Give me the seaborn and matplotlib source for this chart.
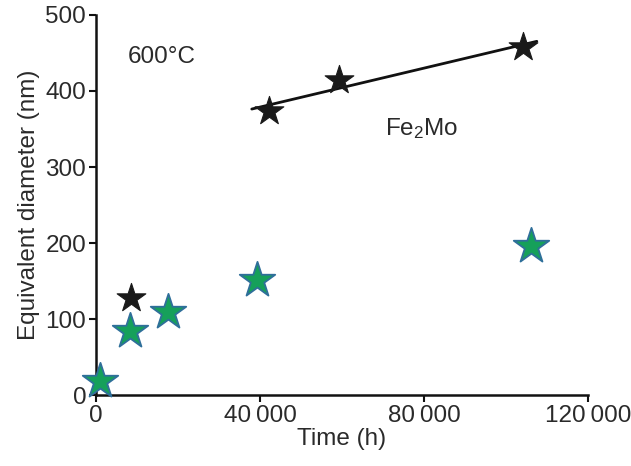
import numpy as np
import pandas as pd
import matplotlib
matplotlib.use("Agg")
import matplotlib.pyplot as plt
import seaborn as sns

# Equivalent diameter of precipitates at 600 °C vs ageing time
green_time = [1000, 8300, 17600, 39300, 106100]
green_diam = [18, 84, 110, 151, 196]

fe2mo_time = [8500, 42200, 59300, 104100]
fe2mo_diam = [128, 374, 414, 458]

x_ticks = [0, 40000, 80000, 120000]
x_ticklabels = ["0", "40\u2009000", "80\u2009000", "120\u2009000"]
y_ticks = [0, 100, 200, 300, 400, 500]

sns.set_theme(style="ticks")
plt.rcParams["font.family"] = ["Liberation Sans", "DejaVu Sans"]
plt.rcParams["mathtext.fontset"] = "custom"
plt.rcParams["mathtext.rm"] = "Liberation Sans"

FS = 17.5

fig = plt.figure(figsize=(6.31, 4.66), dpi=100)
ax = fig.add_axes([0.152, 0.152, 0.78, 0.816])

green_df = pd.DataFrame({"t": green_time, "d": green_diam})
fe2mo_df = pd.DataFrame({"t": fe2mo_time, "d": fe2mo_diam})

sns.scatterplot(data=green_df, x="t", y="d", marker="*", s=720,
                color="#16a05a", edgecolor="#2f6f9a", linewidth=1.3,
                ax=ax, clip_on=False, zorder=3)
sns.scatterplot(data=fe2mo_df, x="t", y="d", marker="*", s=470,
                color="#1a1a1a", edgecolor="#1a1a1a", linewidth=0.8,
                ax=ax, clip_on=False, zorder=3)

# Linear trend through the long-time Fe2Mo points
fit_t = np.array(fe2mo_time[1:])
fit_d = np.array(fe2mo_diam[1:])
slope, intercept = np.polyfit(fit_t, fit_d, 1)
line_t = np.array([38000, 107500])
sns.lineplot(x=line_t, y=slope * line_t + intercept, color="#111111",
             linewidth=2.0, ax=ax, zorder=2)

ax.set_xlim(0, 120000)
ax.set_ylim(0, 500)
ax.set_xticks(x_ticks)
ax.set_xticklabels(x_ticklabels)
ax.set_yticks(y_ticks)
ax.set_xlabel("Time (h)", fontsize=FS, color="#2a2a2a", labelpad=1)
ax.set_ylabel("Equivalent diameter (nm)", fontsize=FS, color="#2a2a2a", labelpad=4)
ax.tick_params(axis="both", direction="out", length=5, width=1.5,
               labelsize=FS, colors="#111111", labelcolor="#2a2a2a", pad=2)
for side in ("left", "bottom"):
    ax.spines[side].set_linewidth(1.8)
    ax.spines[side].set_color("#111111")
sns.despine(ax=ax)

ax.text(7800, 445, "600°C", fontsize=FS, color="#2a2a2a", va="center", ha="left")
ax.text(70500, 351, r"Fe$\mathregular{_2}$Mo", fontsize=FS, color="#2a2a2a",
        va="center", ha="left")

fig.savefig("out.png", dpi=100)
